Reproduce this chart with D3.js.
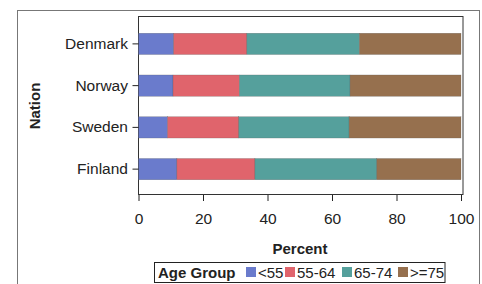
<!DOCTYPE html>
<html><head><meta charset="utf-8">
<script src="https://cdn.jsdelivr.net/npm/d3@7"></script>
<style>body{margin:0;background:#fff}svg{display:block}</style>
</head><body>
<script>
const nations = ["Denmark","Norway","Sweden","Finland"];
const groups = ["<55","55-64","65-74",">=75"];
const vLt55 = [10.9,10.7,9.0,11.9];
const v55_64 = [22.7,20.6,22.1,24.2];
const v65_74 = [34.9,34.3,34.2,37.8];
const vGe75 = [31.5,34.4,34.7,26.1];
const xTicks = [0,20,40,60,80,100];
const colors = ["#6a7bcc","#e0646c","#55a09c","#96704e"];

const W=482,H=284;
const svg=d3.select("body").append("svg").attr("width",W).attr("height",H);
const font="Liberation Sans, Arial, sans-serif";

// outer frame
svg.append("rect").attr("x",17.5).attr("y",10.5).attr("width",462).attr("height",290)
  .attr("fill","none").attr("stroke","#777").attr("stroke-width",1);

const x=d3.scaleLinear().domain([0,100]).range([138.5,461]);
const y=d3.scaleBand().domain(nations).range([23,190]).paddingInner(0.49).paddingOuter(0.245);

// plot frame
svg.append("rect").attr("x",138.5).attr("y",16.5).attr("width",324.5).attr("height",178)
  .attr("fill","none").attr("stroke","#333").attr("stroke-width",1);

const rows = nations.map((n,i)=>({nation:n,"<55":vLt55[i],"55-64":v55_64[i],"65-74":v65_74[i],">=75":vGe75[i]}));
const stacked=d3.stack().keys(groups)(rows);
svg.append("g").selectAll("g").data(stacked).join("g").attr("fill",(d,i)=>colors[i])
  .selectAll("rect").data(d=>d).join("rect")
  .attr("x",d=>x(d[0])).attr("width",d=>x(d[1])-x(d[0]))
  .attr("y",d=>y(d.data.nation)).attr("height",y.bandwidth())
  .attr("stroke","#555").attr("stroke-width",0.4).attr("stroke-opacity",0.6);

const xa=svg.append("g").attr("transform","translate(0,195)")
  .call(d3.axisBottom(x).tickValues(xTicks).tickSize(6).tickSizeOuter(0));
xa.select(".domain").remove();
xa.selectAll("text").attr("font-family",font).attr("font-size",15.5).attr("fill","#222").attr("dy","1.3em");
xa.selectAll("line").attr("stroke","#222");

const ya=svg.append("g").attr("transform","translate(138.5,0)")
  .call(d3.axisLeft(y).tickSize(6).tickSizeOuter(0));
ya.select(".domain").remove();
ya.selectAll("text").attr("font-family",font).attr("font-size",15.5).attr("fill","#222").attr("dx","-0.1em");
ya.selectAll("line").attr("stroke","#222");

svg.append("text").attr("x",300).attr("y",254).attr("text-anchor","middle")
  .attr("font-family",font).attr("font-size",15).attr("font-weight","bold").attr("fill","#222").text("Percent");
svg.append("text").attr("transform","translate(40,106) rotate(-90)").attr("text-anchor","middle")
  .attr("font-family",font).attr("font-size",15).attr("font-weight","bold").attr("fill","#222").text("Nation");

// legend
const lg=svg.append("g");
lg.append("rect").attr("x",154.5).attr("y",262.5).attr("width",290.5).attr("height",20)
  .attr("fill","#fff").attr("stroke","#222").attr("stroke-width",1);
lg.append("text").attr("x",158).attr("y",278).attr("font-family",font).attr("font-size",15)
  .attr("font-weight","bold").attr("fill","#222").text("Age Group");
const lx=[246,285,342,398];
groups.forEach((g,i)=>{
  lg.append("rect").attr("x",lx[i]).attr("y",267).attr("width",10).attr("height",10).attr("fill",colors[i]);
  lg.append("text").attr("x",lx[i]+12).attr("y",278).attr("font-family",font).attr("font-size",15)
    .attr("fill","#222").text(g);
});
</script>
</body></html>
